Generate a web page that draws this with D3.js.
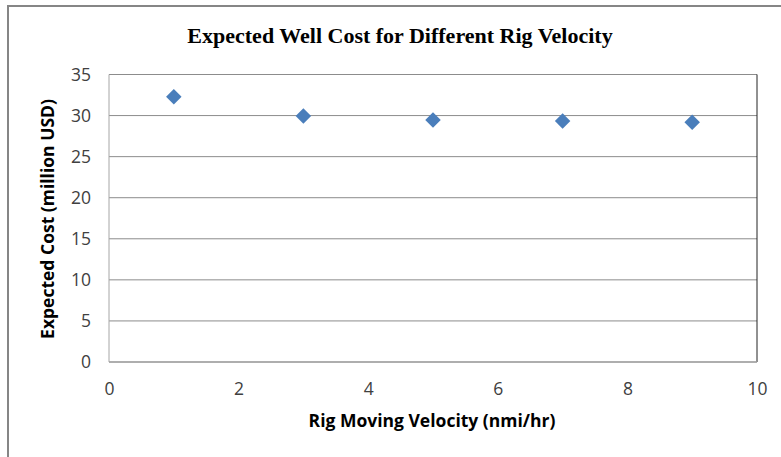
<!DOCTYPE html>
<html>
<head>
<meta charset="utf-8">
<script src="https://cdn.jsdelivr.net/npm/d3@7"></script>
<style>
  body { margin: 0; background: #fff; }
  .axis text { font-family: "Open Sans", "Liberation Sans", sans-serif; font-size: 17.5px; fill: #404040; }
</style>
</head>
<body>
<div class="chart"></div>
<script>
// data
const velocity = [1, 3, 5, 7, 9];
const cost = [32.3, 29.95, 29.45, 29.35, 29.2];
const xTicks = [0, 2, 4, 6, 8, 10];
const yTicks = [0, 5, 10, 15, 20, 25, 30, 35];

const config = { w: 781, h: 457, top: 74.5, right: 24, bottom: 95, left: 109 };
const plotW = config.w - config.left - config.right;
const plotH = config.h - config.top - config.bottom;

const svg = d3.select('.chart').append('svg')
  .attr('width', config.w)
  .attr('height', config.h);

// outer chart frame
svg.append('rect')
  .attr('x', 8).attr('y', 6)
  .attr('width', 790).attr('height', 470)
  .attr('fill', 'none')
  .attr('stroke', '#868686')
  .attr('stroke-width', 2);

// title
svg.append('text')
  .attr('x', 400).attr('y', 43)
  .attr('text-anchor', 'middle')
  .style('font-family', '"Liberation Serif", "Times New Roman", serif')
  .style('font-weight', 'bold')
  .style('font-size', '22px')
  .text('Expected Well Cost for Different Rig Velocity');

const g = svg.append('g')
  .attr('transform', `translate(${config.left},${config.top})`);

const xScale = d3.scaleLinear().domain([0, 10]).range([0, plotW]);
const yScale = d3.scaleLinear().domain([0, 35]).range([plotH, 0]);

// gridlines
g.selectAll('line.grid')
  .data(yTicks)
  .enter().append('line')
  .attr('class', 'grid')
  .attr('x1', 0).attr('x2', plotW)
  .attr('y1', d => yScale(d)).attr('y2', d => yScale(d))
  .attr('stroke', '#8c8c8c')
  .attr('stroke-width', 1);

// plot border: left and bottom axis lines, dark right edge
g.append('line')
  .attr('x1', 0).attr('x2', 0).attr('y1', 0).attr('y2', plotH)
  .attr('stroke', '#a6a6a6').attr('stroke-width', 1);
g.append('line')
  .attr('x1', plotW).attr('x2', plotW).attr('y1', 0).attr('y2', plotH)
  .attr('stroke', '#222').attr('stroke-width', 1);
g.append('line')
  .attr('x1', 0).attr('x2', plotW).attr('y1', plotH).attr('y2', plotH)
  .attr('stroke', '#a6a6a6').attr('stroke-width', 1.5);

// axes (labels only)
const xAxis = d3.axisBottom(xScale).tickValues(xTicks).tickSize(0).tickPadding(21);
const yAxis = d3.axisLeft(yScale).tickValues(yTicks).tickSize(0).tickPadding(18);

g.append('g')
  .attr('class', 'x axis')
  .attr('transform', `translate(0,${plotH})`)
  .call(xAxis)
  .call(s => s.select('.domain').remove());

g.append('g')
  .attr('class', 'y axis')
  .call(yAxis)
  .call(s => s.select('.domain').remove());

// axis titles
svg.append('text')
  .attr('x', 432).attr('y', 427)
  .attr('text-anchor', 'middle')
  .style('font-family', '"Open Sans", "Liberation Sans", sans-serif')
  .style('font-weight', 'bold')
  .style('font-size', '17.5px')
  .text('Rig Moving Velocity (nmi/hr)');

svg.append('text')
  .attr('transform', 'translate(54,219) rotate(-90)')
  .attr('text-anchor', 'middle')
  .style('font-family', '"Open Sans", "Liberation Sans", sans-serif')
  .style('font-weight', 'bold')
  .style('font-size', '17.5px')
  .text('Expected Cost (million USD)');

// diamond markers
const diamond = d3.symbol().type(d3.symbolSquare).size(120);
g.selectAll('path.dot')
  .data(velocity.map((v, i) => ({ v: v, c: cost[i] })))
  .enter().append('path')
  .attr('class', 'dot')
  .attr('d', diamond)
  .attr('transform', d => `translate(${xScale(d.v)},${yScale(d.c)}) rotate(45)`)
  .attr('fill', '#4a7ebb');
</script>
</body>
</html>
